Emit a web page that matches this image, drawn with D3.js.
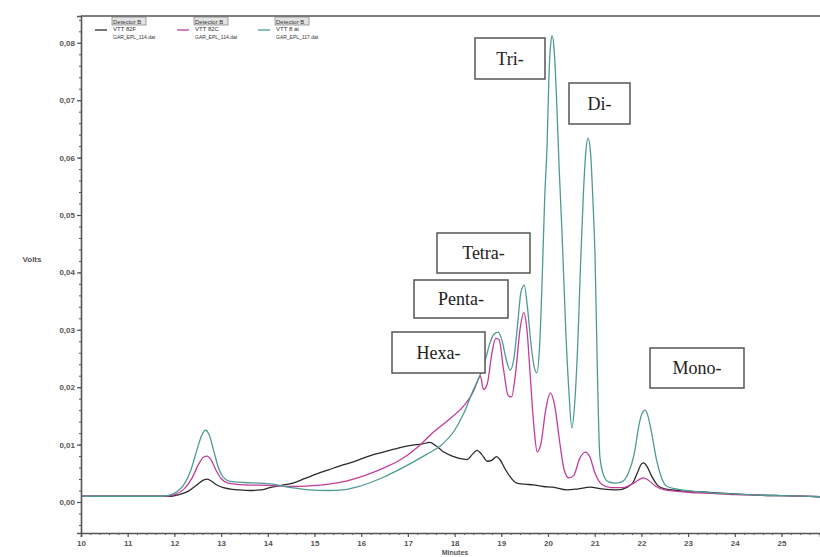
<!DOCTYPE html>
<html>
<head>
<meta charset="utf-8">
<script src="https://cdn.jsdelivr.net/npm/d3@7"></script>
<style>
  html, body { margin: 0; padding: 0; background: #fff; }
  svg { display: block; }
</style>
</head>
<body>
<svg id="chart" width="820" height="557"></svg>
<script>
// Chromatogram traces: [retention time (min), detector signal (V)]
const traceBlack = [
  [10,0.001],[11.9,0.001],[12.1,0.0013],[12.3,0.0019],[12.5,0.0031],[12.62,0.0038],[12.7,0.004],[12.78,0.0037],
  [12.9,0.003],[13.05,0.0025],[13.25,0.0022],[13.4,0.0021],[13.6,0.002],[13.85,0.0021],[14.05,0.0025],
  [14.3,0.0029],[14.54,0.0033],[14.8,0.0041],[15.05,0.0049],[15.3,0.0056],[15.55,0.0063],[15.76,0.0068],
  [16.0,0.0075],[16.2,0.0081],[16.47,0.0087],[16.7,0.0092],[16.9,0.0096],[17.1,0.0099],[17.3,0.0101],
  [17.47,0.0104],[17.6,0.0098],[17.75,0.0088],[17.95,0.008],[18.1,0.0076],[18.27,0.0074],[18.38,0.0083],
  [18.48,0.009],[18.58,0.0083],[18.7,0.0071],[18.8,0.0073],[18.9,0.0079],[18.97,0.0074],[19.08,0.0058],
  [19.19,0.0044],[19.33,0.0033],[19.5,0.0031],[19.68,0.003],[19.9,0.0027],[20.1,0.0026],[20.4,0.0021],
  [20.65,0.0023],[20.9,0.0026],[21.15,0.0023],[21.48,0.0021],[21.7,0.0026],[21.82,0.0034],[21.92,0.0052],
  [22.0,0.0066],[22.05,0.0068],[22.12,0.0062],[22.22,0.0045],[22.35,0.0029],[22.5,0.0023],[22.8,0.002],
  [23.2,0.0018],[23.6,0.0016],[24.0,0.0014],[24.5,0.0012],[25.0,0.0011],[25.9,0.0009]
];
const traceMagenta = [
  [10,0.001],[11.8,0.001],[12.0,0.0013],[12.2,0.0022],[12.38,0.0042],[12.52,0.0066],[12.62,0.0078],[12.7,0.008],
  [12.78,0.0074],[12.9,0.0054],[13.0,0.0041],[13.15,0.0033],[13.5,0.003],[14.0,0.0029],[14.5,0.0027],
  [14.9,0.0028],[15.3,0.0031],[15.7,0.0037],[16.1,0.0047],[16.5,0.006],[16.85,0.0074],[17.2,0.0095],
  [17.55,0.0122],[17.9,0.0145],[18.2,0.0168],[18.4,0.0192],[18.5,0.0212],[18.55,0.022],[18.62,0.0196],
  [18.7,0.0206],[18.8,0.026],[18.88,0.0285],[18.95,0.0283],[19.05,0.023],[19.15,0.0185],[19.22,0.0183],
  [19.3,0.022],[19.4,0.030],[19.48,0.033],[19.55,0.030],[19.62,0.022],[19.7,0.013],[19.77,0.0087],
  [19.85,0.0102],[19.95,0.016],[20.05,0.019],[20.15,0.0165],[20.25,0.0105],[20.35,0.0055],[20.45,0.0042],
  [20.55,0.0046],[20.68,0.0076],[20.8,0.0087],[20.9,0.0078],[21.0,0.0052],[21.15,0.0031],[21.35,0.0025],
  [21.6,0.0025],[21.8,0.0031],[21.95,0.0039],[22.05,0.0042],[22.15,0.0038],[22.3,0.0028],[22.5,0.0021],
  [23.0,0.0017],[23.5,0.0015],[24.0,0.0013],[24.5,0.0012],[25.0,0.0011],[25.9,0.0009]
];
const traceTeal = [
  [10,0.001],[11.7,0.001],[11.9,0.0012],[12.05,0.0018],[12.2,0.003],[12.35,0.0055],[12.48,0.009],[12.58,0.0115],
  [12.66,0.0125],[12.74,0.0118],[12.84,0.009],[12.95,0.0058],[13.05,0.0043],[13.2,0.0036],[13.5,0.0034],
  [13.8,0.0033],[14.1,0.0031],[14.5,0.0025],[14.9,0.0021],[15.3,0.002],[15.6,0.0021],[15.9,0.0026],
  [16.2,0.0034],[16.5,0.0044],[16.8,0.0056],[17.1,0.0069],[17.4,0.0083],[17.7,0.0098],[18.0,0.0125],
  [18.2,0.0155],[18.4,0.0195],[18.55,0.0222],[18.65,0.0245],[18.75,0.0275],[18.85,0.0293],[18.93,0.0296],
  [19.02,0.028],[19.1,0.025],[19.19,0.023],[19.27,0.025],[19.35,0.031],[19.42,0.0365],[19.49,0.0378],
  [19.56,0.034],[19.63,0.028],[19.7,0.0237],[19.76,0.0225],[19.82,0.027],[19.88,0.040],[19.93,0.053],
  [19.98,0.062],[20.02,0.074],[20.06,0.080],[20.09,0.0812],[20.13,0.079],[20.18,0.071],[20.24,0.058],
  [20.3,0.047],[20.38,0.030],[20.45,0.019],[20.51,0.0129],[20.57,0.017],[20.64,0.028],[20.7,0.042],
  [20.76,0.054],[20.81,0.061],[20.86,0.0634],[20.91,0.061],[20.96,0.053],[21.01,0.042],[21.06,0.022],
  [21.11,0.008],[21.2,0.0045],[21.3,0.0035],[21.45,0.0033],[21.6,0.0036],[21.72,0.005],[21.85,0.0085],
  [21.95,0.0135],[22.03,0.0157],[22.08,0.016],[22.14,0.015],[22.22,0.012],[22.32,0.0075],[22.42,0.0045],
  [22.55,0.0027],[22.8,0.0022],[23.2,0.0018],[23.5,0.0016],[24.0,0.0014],[24.5,0.0012],[25.0,0.0011],[25.9,0.0009]
];

const seriesColors = ["#2b2b2b", "#c23c9c", "#4f9a93"];
const legendLines = [
  ["Detector B", "VTT 82F", "GAR_EPL_114.dat"],
  ["Detector B", "VTT 82C", "GAR_EPL_114.dat"],
  ["Detector B", "VTT 8 at", "GAR_EPL_117.dat"]
];
const xTickValues = d3.range(10, 26, 1);
const yTickValues = d3.range(0, 0.081, 0.01);
const peakLabels = ["Hexa-", "Penta-", "Tetra-", "Tri-", "Di-", "Mono-"];
// label boxes: left, top, width, height (px)
const labelBoxes = [
  [392, 332, 93, 41], [414, 280, 94, 38], [437, 233, 93, 40],
  [475, 38, 70, 41], [569, 83, 61, 41], [650, 348, 94, 40]
];
const axisTitleY = "Volts";
const axisTitleX = "Minutes";

const svg = d3.select("#chart");
const mLeft = 81, mRight = 820, mTop = 16, mBottom = 533;

const x = d3.scaleLinear().domain([10, 25.825]).range([mLeft, mRight]);
const y = d3.scaleLinear().domain([-0.0054, 0.08467]).range([mBottom, mTop]);

const axisColor = "#555";
const tickFont = "Liberation Sans, Arial, sans-serif";

// traces
const line = d3.line().x(d => x(d[0])).y(d => y(d[1])).curve(d3.curveMonotoneX);
svg.append("clipPath").attr("id", "plotclip")
  .append("rect").attr("x", mLeft).attr("y", mTop).attr("width", mRight - mLeft).attr("height", mBottom - mTop);
const plot = svg.append("g").attr("clip-path", "url(#plotclip)");
[traceBlack, traceMagenta, traceTeal].forEach((tr, i) => {
  plot.append("path").datum(tr)
    .attr("d", line)
    .attr("fill", "none")
    .attr("stroke", seriesColors[i])
    .attr("stroke-width", 1.3)
    .attr("stroke-linejoin", "round");
});

// x axis with minor ticks
const xAxis = d3.axisBottom(x).tickValues(xTickValues).tickSize(4).tickFormat(d3.format("d"));
const gx = svg.append("g").attr("transform", `translate(0,${mBottom})`).call(xAxis);
gx.select(".domain").attr("stroke", axisColor).attr("stroke-width", 1.6);
gx.selectAll(".tick line").attr("stroke", axisColor).attr("stroke-width", 1.2);
gx.selectAll(".tick text").attr("fill", "#555").attr("font-size", 8).attr("font-weight", "bold")
  .attr("font-family", tickFont).attr("dy", "0.8em");
const xMinor = d3.axisBottom(x).tickValues(d3.range(10, 25.9, 0.2)).tickSize(2).tickFormat("");
const gxm = svg.append("g").attr("transform", `translate(0,${mBottom})`).call(xMinor);
gxm.select(".domain").remove();
gxm.selectAll(".tick line").attr("stroke", axisColor).attr("stroke-width", 1);

// y axis with minor ticks
const yAxis = d3.axisLeft(y).tickValues(yTickValues).tickSize(4)
  .tickFormat(d => d3.format(".2f")(d).replace(".", ","));
const gy = svg.append("g").attr("transform", `translate(${mLeft},0)`).call(yAxis);
gy.select(".domain").attr("stroke", axisColor).attr("stroke-width", 1.6);
gy.selectAll(".tick line").attr("stroke", axisColor).attr("stroke-width", 1.2);
gy.selectAll(".tick text").attr("fill", "#555").attr("font-size", 8).attr("font-weight", "bold")
  .attr("font-family", tickFont).attr("x", -6);
const yMinor = d3.axisLeft(y).tickValues(d3.range(-0.004, 0.0845, 0.002)).tickSize(2).tickFormat("");
const gym = svg.append("g").attr("transform", `translate(${mLeft},0)`).call(yMinor);
gym.select(".domain").remove();
gym.selectAll(".tick line").attr("stroke", axisColor).attr("stroke-width", 1);

// top frame line
svg.append("line").attr("x1", mLeft).attr("x2", mRight).attr("y1", mTop).attr("y2", mTop)
  .attr("stroke", axisColor).attr("stroke-width", 1.6);

// axis titles
svg.append("text").attr("x", 32).attr("y", 262).attr("text-anchor", "middle")
  .attr("font-size", 8).attr("font-weight", "bold").attr("fill", "#555").attr("font-family", tickFont)
  .text(axisTitleY);
svg.append("text").attr("x", 455).attr("y", 555).attr("text-anchor", "middle")
  .attr("font-size", 7).attr("font-weight", "bold").attr("fill", "#555").attr("font-family", tickFont)
  .text(axisTitleX);

// legend
const legendX = [95, 177, 258];
legendLines.forEach((lines, i) => {
  const g = svg.append("g").attr("transform", `translate(${legendX[i]},0)`);
  g.append("line").attr("x1", 0).attr("x2", 12).attr("y1", 30).attr("y2", 30)
    .attr("stroke", seriesColors[i]).attr("stroke-width", 1.3);
  g.append("rect").attr("x", 17).attr("y", 17).attr("width", 34).attr("height", 8)
    .attr("fill", "#e4e4e4").attr("stroke", "#666").attr("stroke-width", 0.6);
  lines.forEach((t, j) => {
    g.append("text").attr("x", 18).attr("y", 23.5 + j * 7.5)
      .attr("font-size", j === 2 ? 5 : 6).attr("font-family", tickFont).attr("fill", "#333")
      .text(t);
  });
});

// peak label boxes
peakLabels.forEach((lab, i) => {
  const [bx, by, bw, bh] = labelBoxes[i];
  svg.append("rect").attr("x", bx).attr("y", by).attr("width", bw).attr("height", bh)
    .attr("fill", "#fff").attr("stroke", "#555").attr("stroke-width", 1.5);
  svg.append("text").attr("x", bx + bw / 2).attr("y", by + bh / 2 + 6)
    .attr("text-anchor", "middle").attr("font-family", "Liberation Serif, Times New Roman, serif")
    .attr("font-size", 18).attr("fill", "#222").text(lab);
});
</script>
</body>
</html>
